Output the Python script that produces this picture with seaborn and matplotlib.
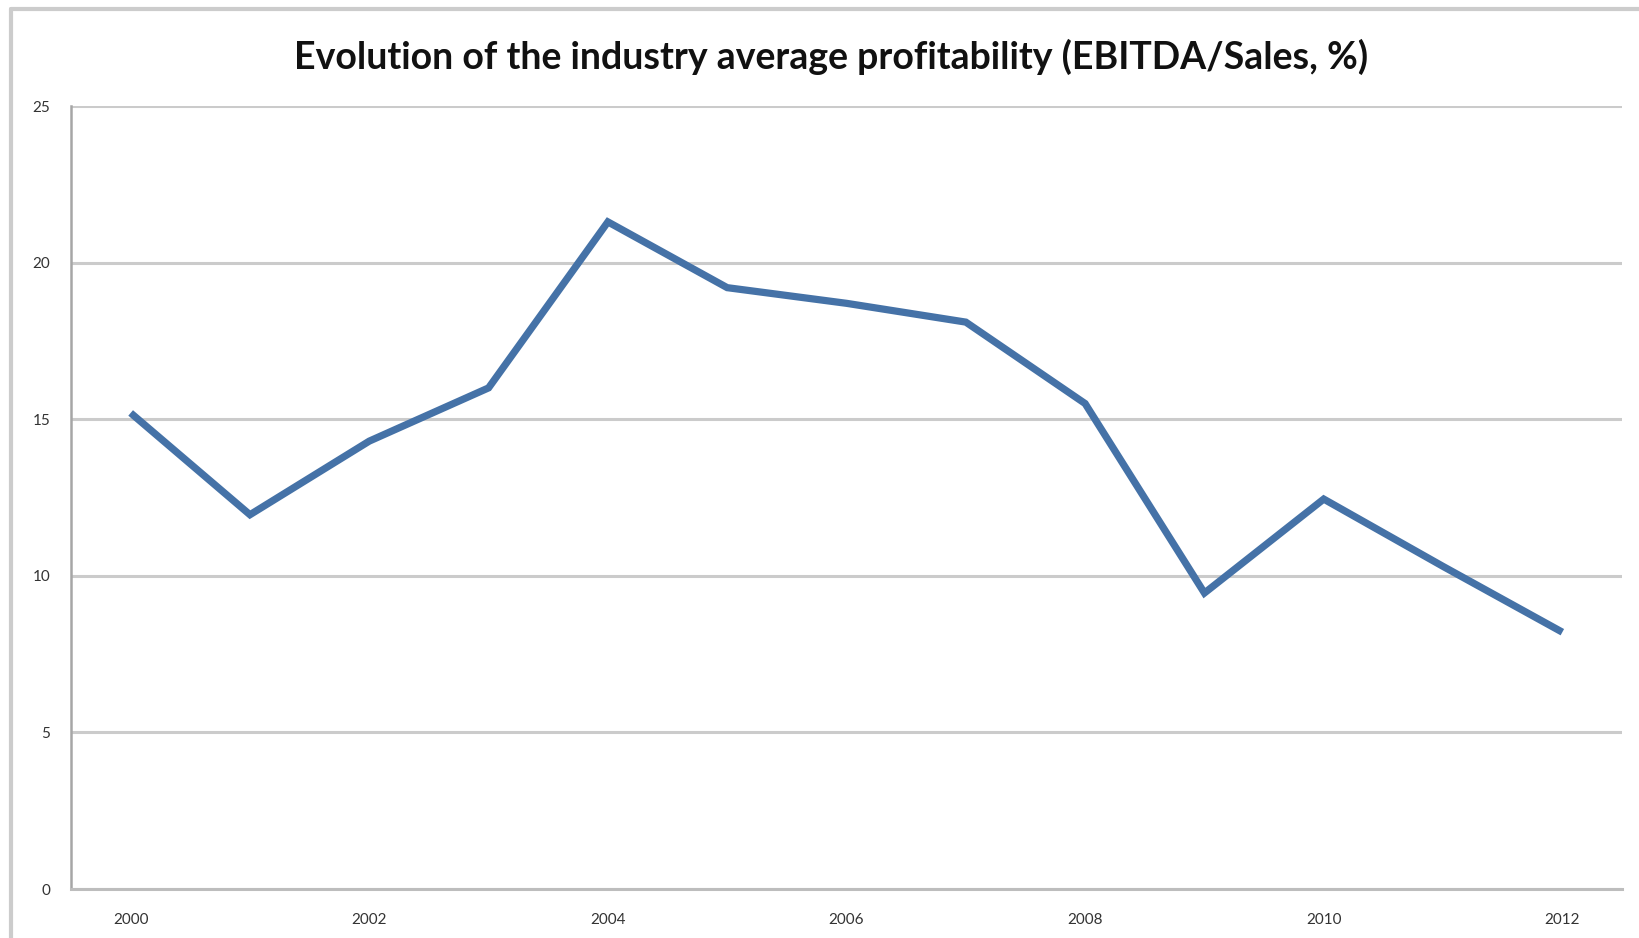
import matplotlib
matplotlib.use("Agg")
import matplotlib.pyplot as plt
from matplotlib.lines import Line2D
import seaborn as sns
import pandas as pd

# Industry average EBITDA / Sales (%), by year
years = [2000, 2001, 2002, 2003, 2004, 2005, 2006, 2007, 2008, 2009, 2010, 2011, 2012]
ebitda_margin = [15.2, 11.95, 14.3, 16.0, 21.3, 19.2, 18.7, 18.1, 15.5, 9.45, 12.45, 10.3, 8.2]

x_ticks = [2000, 2002, 2004, 2006, 2008, 2010, 2012]
y_ticks = [0, 5, 10, 15, 20, 25]
title = "Evolution of the industry average profitability (EBITDA/Sales, %)"

df = pd.DataFrame({"year": years, "margin": ebitda_margin})

sns.set_theme(style="white")
plt.rcParams["font.family"] = ["Lato", "DejaVu Sans"]

W, H = 1639, 938
fig = plt.figure(figsize=(W / 100, H / 100), dpi=100)
fig.patch.set_facecolor("white")
ax = fig.add_axes([71 / W, 1 - 889 / H, (1622 - 71) / W, (889 - 106) / H])

sns.lineplot(data=df, x="year", y="margin", ax=ax, color="#4572A7",
             linewidth=5.2, solid_joinstyle="miter", solid_capstyle="butt",
             zorder=3)

ax.set_xlim(1999.5, 2012.5)
ax.set_ylim(0, 25)
ax.set_xticks(x_ticks)
ax.set_xticklabels([str(t) for t in x_ticks])
ax.set_yticks(y_ticks)
ax.set_yticklabels([str(t) for t in y_ticks])
ax.set_xlabel("")
ax.set_ylabel("")

ax.yaxis.grid(True, color="#cbcbcb", linewidth=2.2)
ax.xaxis.grid(False)
ax.set_axisbelow(True)

for side in ("top", "right"):
    ax.spines[side].set_visible(False)
ax.spines["left"].set_color("#a6a6a6")
ax.spines["left"].set_linewidth(1.8)
ax.spines["bottom"].set_color("#bdbdbd")
ax.spines["bottom"].set_linewidth(2.2)

ax.tick_params(axis="both", length=0, labelsize=11, labelcolor="#333333")
ax.tick_params(axis="y", pad=15)
ax.tick_params(axis="x", pad=17)

fig.text(831 / W, 1 - 57 / H, title, ha="center", va="center",
         fontsize=27, fontweight="bold", color="#111111")

# chart frame (top and left edges)
fig.add_artist(Line2D([11 / W, 11 / W], [0, 1 - 9 / H], transform=fig.transFigure,
                      color="#cccccc", linewidth=3))
fig.add_artist(Line2D([11 / W, 1], [1 - 9 / H, 1 - 9 / H], transform=fig.transFigure,
                      color="#cccccc", linewidth=3))

fig.savefig("out.png", dpi=100)
